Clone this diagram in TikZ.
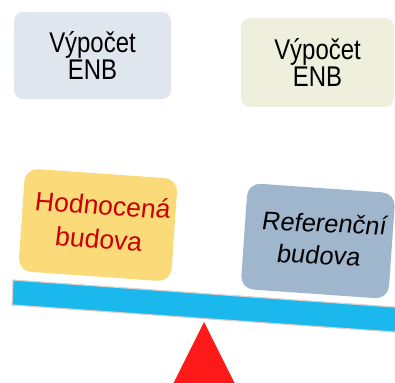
\documentclass[tikz,border=0pt]{standalone}
\usepackage{fontspec}
\setmainfont{Liberation Sans}
\newfontfamily\calcfont[FakeStretch=0.84]{Liberation Sans}
\definecolor{calcA}{RGB}{223,230,238}
\definecolor{calcB}{RGB}{238,240,221}
\definecolor{hodfill}{RGB}{251,218,122}
\definecolor{hodtext}{RGB}{200,0,0}
\definecolor{reffill}{RGB}{160,182,205}
\definecolor{tri}{RGB}{255,26,26}
\definecolor{beamfill}{RGB}{27,184,238}
\definecolor{beamedge}{RGB}{220,210,205}
\begin{document}
\begin{tikzpicture}[x=1pt,y=1pt,
  calcbox/.style={rounded corners=9pt, align=center, inner sep=0pt, font=\calcfont\fontsize{28.5}{27.5}\selectfont},
  bldbox/.style={rounded corners=13pt, align=center, inner sep=0pt}]
\useasboundingbox (0,0) rectangle (395,382);
\node[calcbox, fill=calcA, minimum width=157pt, minimum height=87pt] (c1) at (92.5,326.5) {Výpočet\\ENB};
\node[calcbox, fill=calcB, minimum width=153pt, minimum height=89pt] (c2) at (317.5,319.5) {Výpočet\\ENB};
\node[bldbox, fill=hodfill, minimum width=153pt, minimum height=103pt, rotate=-4] (h) at (98,157) {};
\begin{scope}[shift={(101,160)}, rotate=-3.5, xslant=0.06, transform shape]
\node[bldbox, text=hodtext, font=\fontsize{26.5}{34}\selectfont] (ht) at (0,0) {Hodnocená\\budova};
\end{scope}
\node[bldbox, fill=reffill, minimum width=148pt, minimum height=106pt, rotate=-4] (r) at (318,141) {};
\begin{scope}[shift={(322,143)}, rotate=-2.5, xslant=0.13, transform shape]
\node[bldbox, font=\fontsize{25.5}{32}\selectfont] (rt) at (0,0) {Referenční\\budova};
\end{scope}
\fill[tri] (204,60) coordinate (apex) -- (172,-4) -- (236,-4) -- cycle;
\draw[line width=1.2pt, draw=beamedge, fill=beamfill] (13,102) -- (12,77) -- (400,49.6) -- (400,74.6) -- cycle;
\end{tikzpicture}
\end{document}
